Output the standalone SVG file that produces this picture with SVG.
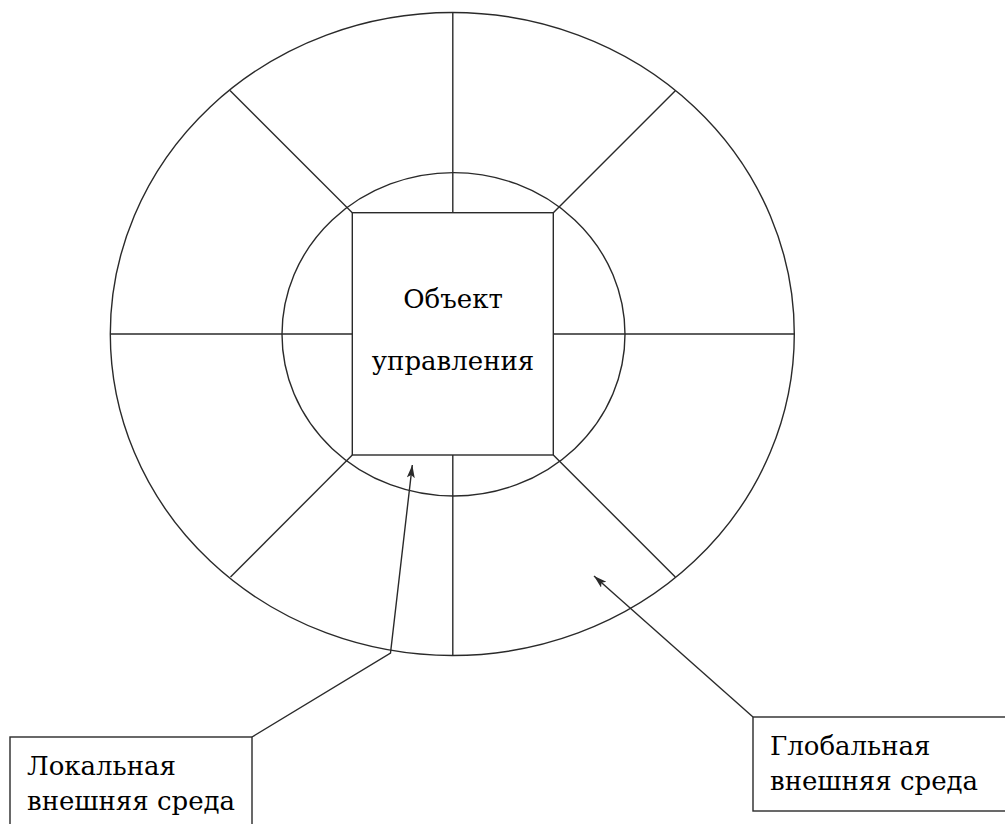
<svg xmlns="http://www.w3.org/2000/svg" width="1005" height="824" viewBox="0 0 1005 824">
<defs>
<style>
.ln{stroke:#2a2a2a;stroke-width:1.4;fill:none}
.box{stroke:#2a2a2a;stroke-width:1.4;fill:#fff}
.t{font-family:'DejaVu Serif',serif;font-size:26px;fill:#000}
</style>
<marker id="arr" markerUnits="userSpaceOnUse" markerWidth="14" markerHeight="10" refX="13" refY="4" orient="auto">
<path d="M0,0 L13,4 L0,8 L3,4 Z" fill="#2a2a2a"/>
</marker>
</defs>
<rect width="1005" height="824" fill="#fff"/>
<g id="outer-ring">
<ellipse class="ln" cx="452.3" cy="334" rx="342" ry="321.5"/>
</g>
<g id="inner-ring">
<ellipse class="ln" cx="453.5" cy="334.3" rx="171.5" ry="161.7"/>
</g>
<g id="dividers">
<line class="ln" x1="452.8" y1="12.5" x2="452.8" y2="212.7"/>
<line class="ln" x1="452.8" y1="455" x2="452.8" y2="656"/>
<line class="ln" x1="110.3" y1="334" x2="352.3" y2="334"/>
<line class="ln" x1="553.3" y1="334" x2="794.3" y2="334"/>
<line class="ln" x1="230" y1="90.5" x2="352.3" y2="212.7"/>
<line class="ln" x1="675.3" y1="90.7" x2="553.3" y2="212.7"/>
<line class="ln" x1="230.5" y1="577" x2="352.3" y2="455"/>
<line class="ln" x1="675.3" y1="577" x2="553.3" y2="455"/>
</g>
<g id="object">
<rect class="box" x="352.3" y="212.7" width="201" height="242.3"/>
<text class="t" x="453" y="308" text-anchor="middle">Объект</text>
<text class="t" x="453" y="370" text-anchor="middle">управления</text>
</g>
<g id="local-label">
<rect class="box" x="10" y="737" width="242" height="100"/>
<text class="t" x="27" y="775">Локальная</text>
<text class="t" x="27" y="810">внешняя среда</text>
</g>
<g id="global-label">
<rect class="box" x="753" y="717" width="260" height="94"/>
<text class="t" x="770" y="755">Глобальная</text>
<text class="t" x="770" y="790">внешняя среда</text>
</g>
<g id="connectors">
<polyline class="ln" points="252,737 390.5,653 412.3,465" marker-end="url(#arr)"/>
<line class="ln" x1="753" y1="717" x2="594" y2="576" marker-end="url(#arr)"/>
</g>
</svg>
